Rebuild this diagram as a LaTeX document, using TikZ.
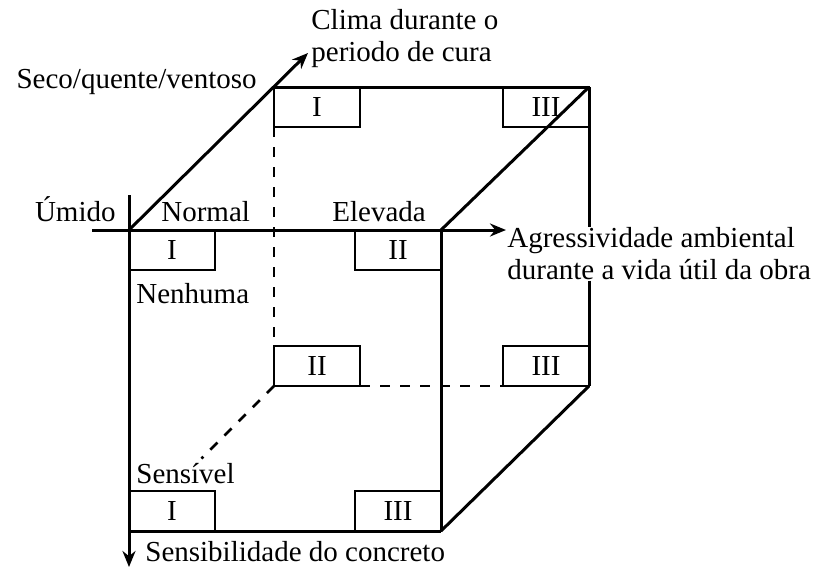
\documentclass[tikz,border=0pt]{standalone}
\usepackage{fontspec}
\setmainfont{Liberation Serif}
\usetikzlibrary{arrows.meta,calc}
\tikzset{aresta/.style={line width=1.5pt}, eixo/.style={aresta,-{Stealth[length=8pt,width=6.5pt]}}, oculta/.style={line width=1.4pt,dash pattern=on 5pt off 5pt}, caixa/.style={draw=black,line width=1.3pt,minimum width=43pt,minimum height=20pt,inner sep=0pt,outer sep=0pt,font=\fontsize{14.5}{16}\selectfont}, rotulo/.style={inner sep=0pt,font=\fontsize{14.5}{16}\selectfont}}

\begin{document}
\begin{tikzpicture}[x=0.5pt,y=-0.5pt]
\useasboundingbox (0,0) rectangle (826,569);
% cantos do cubo
\coordinate (fa) at (129,230);
\coordinate (fb) at (441,230);
\coordinate (fc) at (129,531);
\coordinate (fd) at (441,531);
\coordinate (ta) at (274,87);
\coordinate (tb) at (589,87);
\coordinate (tc) at (274,386);
\coordinate (td) at (589,386);
% pontas dos eixos
\coordinate (xi) at (92,230);
\coordinate (xf) at (506,230);
\coordinate (yi) at (129,195);
\coordinate (yf) at (129,567);
\coordinate (zf) at (308,53);
% caixas
\node[caixa,anchor=north west] (tI) at (ta) {I};
\node[caixa,anchor=north east] (tIII) at (tb) {III};
\node[caixa,anchor=north west] (fI) at (fa) {I};
\node[caixa,anchor=north east] (fII) at (fb) {II};
\node[caixa,anchor=south west] (mII) at (tc) {II};
\node[caixa,anchor=south east] (mIII) at (td) {III};
\node[caixa,anchor=south west] (bI) at (fc) {I};
\node[caixa,anchor=south east] (bIII) at (fd) {III};
% textos
\node[rotulo,anchor=west,align=left] (clima) at (311,39) {Clima durante o\\periodo de cura};
\node[rotulo,anchor=base east] (seco) at (257,88) {Seco/quente/ventoso};
\node[rotulo,anchor=base east] (umido) at (116,221) {Úmido};
\node[rotulo,anchor=base west] (normal) at (161,221) {Normal};
\node[rotulo,anchor=base west] (elevada) at (332,221) {Elevada};
\node[rotulo,anchor=west,align=left] (agr) at (507,254) {Agressividade ambiental\\durante a vida útil da obra};
\node[rotulo,anchor=base west] (nenhuma) at (136,303) {Nenhuma};
\node[rotulo,anchor=base west] (sensivel) at (136,483) {Sensível};
\node[rotulo,anchor=base west] (sensib) at (145,561) {Sensibilidade do concreto};
% arestas escondidas
\draw[oculta] (tI.south west) -- (mII.north west);
\draw[oculta] (mII.south east) -- (mIII.south west);
\draw[oculta] (tc) -- ($(tc)!0.5!(fc)$);
% arestas visiveis
\draw[aresta] (ta) -- (tb);
\draw[aresta] (tb) -- (tb |- agr.north);
\draw[aresta] (tb |- agr.south) -- (td);
\draw[aresta] (fb) -- (tb);
\draw[aresta] (fb) -- (fd);
\draw[aresta] (fc) -- (fd);
\draw[aresta] (fd) -- (td);
% eixos
\draw[eixo] (xi) -- (xf);
\draw[eixo] (yi) -- (yf);
\draw[eixo] (fa) -- (zf);
\end{tikzpicture}
\end{document}
